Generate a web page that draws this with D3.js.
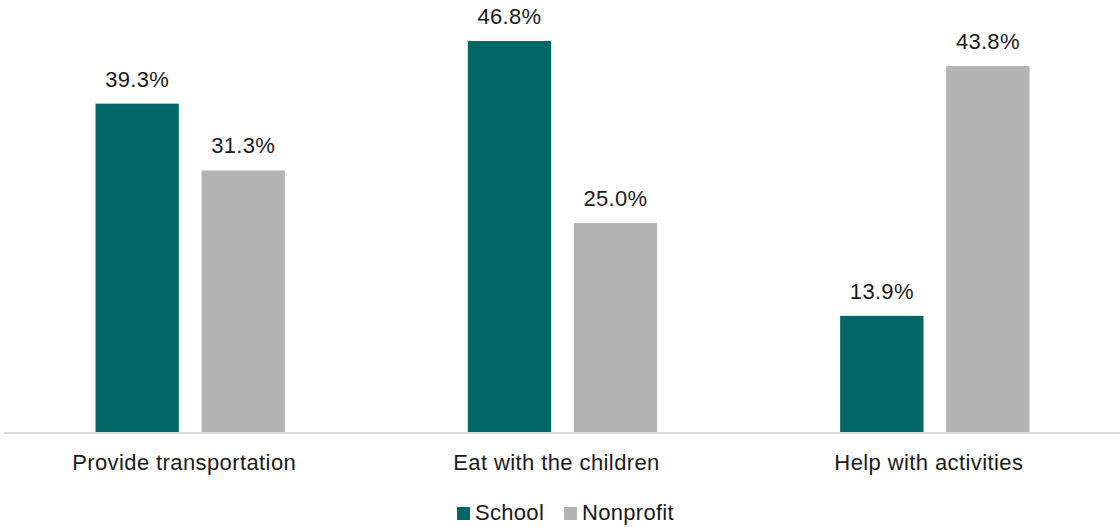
<!DOCTYPE html>
<html>
<head>
<meta charset="utf-8">
<script src="https://cdn.jsdelivr.net/npm/d3@7"></script>
<style>
  html, body { margin: 0; padding: 0; background: #fff; }
  svg { display: block; font-family: "Liberation Sans", Arial, sans-serif; }
</style>
</head>
<body>
<svg id="chart" width="1120" height="527"></svg>
<script>
// Survey shares by activity, school vs. nonprofit
const categories = ["Provide transportation", "Eat with the children", "Help with activities"];
const seriesNames = ["School", "Nonprofit"];
const schoolValues = [39.3, 46.8, 13.9];
const nonprofitValues = [31.3, 25.0, 43.8];
const colors = { School: "#006666", Nonprofit: "#b3b3b3" };

const rows = categories.map((c, i) => ({
  category: c,
  values: [
    { series: "School", value: schoolValues[i] },
    { series: "Nonprofit", value: nonprofitValues[i] }
  ]
}));

const svg = d3.select("#chart");
const baseline = 432;

const x0 = d3.scaleBand().domain(categories).range([4, 1121]).padding(0);
const x1 = d3.scaleBand().domain(seriesNames)
  .range([91.5, x0.bandwidth() - 91.5])
  .paddingInner(0.214).paddingOuter(0);
const y = d3.scaleLinear().domain([0, 46.8]).range([baseline, 41]);

const groups = svg.append("g").selectAll("g")
  .data(rows).join("g")
  .attr("transform", d => `translate(${x0(d.category)},0)`);

groups.selectAll("rect")
  .data(d => d.values).join("rect")
  .attr("x", d => x1(d.series))
  .attr("y", d => y(d.value))
  .attr("width", x1.bandwidth())
  .attr("height", d => baseline - y(d.value))
  .attr("fill", d => colors[d.series]);

groups.selectAll("text.val")
  .data(d => d.values).join("text")
  .attr("class", "val")
  .attr("x", d => x1(d.series) + x1.bandwidth() / 2)
  .attr("y", d => y(d.value) - 17)
  .attr("text-anchor", "middle")
  .attr("font-size", 22)
  .attr("letter-spacing", 0.3)
  .attr("fill", "#1a1a1a")
  .text(d => d.value.toFixed(1) + "%");

// category axis
const axis = svg.append("g").attr("transform", `translate(0,${baseline + 1})`)
  .call(d3.axisBottom(x0).tickSize(0).tickPadding(0));
axis.select(".domain").attr("stroke", "#d9d9d9").attr("stroke-width", 2)
  .attr("d", "M4,0H1120");
axis.selectAll(".tick text")
  .attr("font-size", 22)
  .attr("font-family", "Liberation Sans, Arial, sans-serif")
  .attr("letter-spacing", 0.4)
  .attr("fill", "#1a1a1a")
  .attr("dy", null)
  .attr("x", -6)
  .attr("y", 37);

// legend
const legend = svg.append("g");
const legendItems = [
  { name: "School", x: 457 },
  { name: "Nonprofit", x: 564 }
];
const li = legend.selectAll("g").data(legendItems).join("g")
  .attr("transform", d => `translate(${d.x},0)`);
li.append("rect")
  .attr("x", 0).attr("y", 507)
  .attr("width", 13).attr("height", 13)
  .attr("fill", d => colors[d.name]);
li.append("text")
  .attr("x", 18).attr("y", 520)
  .attr("font-size", 22)
  .attr("letter-spacing", 0.3)
  .attr("fill", "#1a1a1a")
  .text(d => d.name);
</script>
</body>
</html>
